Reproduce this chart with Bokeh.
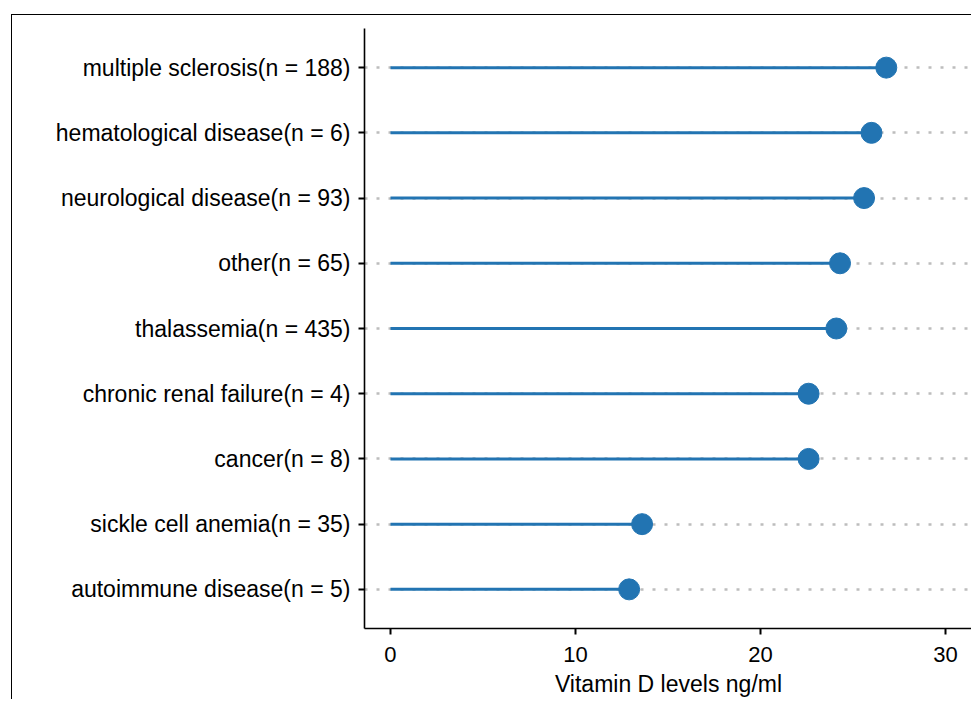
from bokeh.plotting import figure
from bokeh.models import Range1d, FactorRange, FixedTicker
from bokeh.embed import file_html
from bokeh.resources import INLINE

categories = [
    "multiple sclerosis(n = 188)",
    "hematological disease(n = 6)",
    "neurological disease(n = 93)",
    "other(n = 65)",
    "thalassemia(n = 435)",
    "chronic renal failure(n = 4)",
    "cancer(n = 8)",
    "sickle cell anemia(n = 35)",
    "autoimmune disease(n = 5)",
]
vitamin_d = [26.8, 26.0, 25.6, 24.3, 24.1, 22.6, 22.6, 13.6, 12.9]
x_ticks = [0, 10, 20, 30]

FONT = "Liberation Sans"
BLUE = "#2274B2"

p = figure(
    width=960, height=685,
    y_range=FactorRange(factors=categories[::-1], range_padding=0.1, range_padding_units="absolute"),
    x_range=Range1d(-1.405, 31.46),
    output_backend="svg", toolbar_location=None,
    min_border_left=352, min_border_right=0, min_border_top=13, min_border_bottom=72,
    margin=(14, 0, 0, 11),
)
p.styles = {"border-left": "1.5px solid black", "border-top": "1.5px solid black"}
p.outline_line_color = None
p.xgrid.grid_line_color = None
p.ygrid.grid_line_color = "#BDBDBD"
p.ygrid.grid_line_width = 2.4
p.ygrid.grid_line_dash = "3 9"

p.segment(x0=0, y0=categories, x1=vitamin_d, y1=categories, line_color=BLUE, line_width=3)
p.scatter(x=vitamin_d, y=categories, size=21, fill_color=BLUE, line_color=BLUE)

for ax in (p.xaxis[0], p.yaxis[0]):
    ax.axis_line_color = "black"
    ax.axis_line_width = 1.6
    ax.major_tick_line_color = "black"
    ax.major_tick_line_width = 2
    ax.major_tick_out = 6
    ax.major_tick_in = 0
    ax.minor_tick_line_color = None
    ax.major_label_text_font = FONT
    ax.major_label_text_color = "black"
    ax.major_label_text_font_size = "23px"

p.xaxis.major_label_text_font_size = "22px"
p.xaxis.ticker = FixedTicker(ticks=x_ticks)
p.xaxis.axis_label = "Vitamin D levels ng/ml"
p.xaxis.axis_label_text_font = FONT
p.xaxis.axis_label_text_font_style = "normal"
p.xaxis.axis_label_text_font_size = "23px"
p.xaxis.axis_label_text_color = "black"
p.xaxis.major_label_standoff = 12
p.xaxis.axis_label_standoff = 6
p.yaxis.major_label_standoff = 8

open("out.html", "w").write(file_html(p, INLINE))
